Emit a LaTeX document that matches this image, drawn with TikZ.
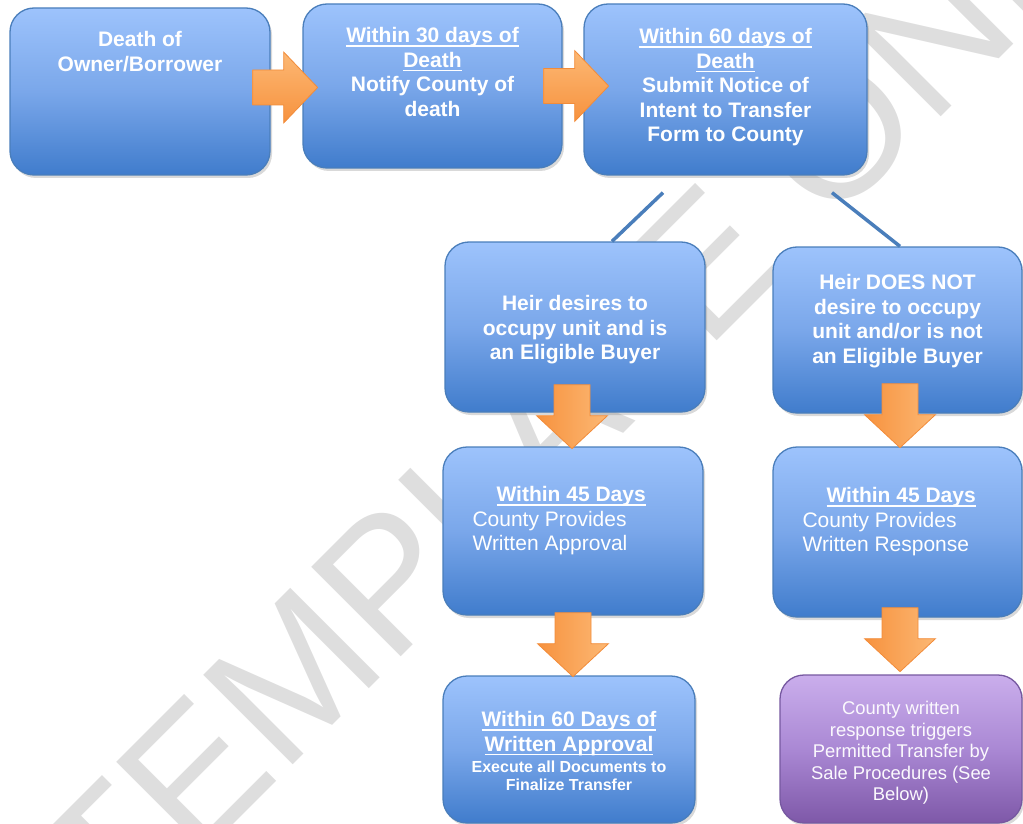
\documentclass[tikz,border=0pt]{standalone}
\usepackage{fontspec}
\setmainfont{Liberation Sans}
\usetikzlibrary{positioning,shadows}
\definecolor{bluetop}{RGB}{157,195,252}
\definecolor{bluemid}{RGB}{122,167,234}
\definecolor{bluebot}{RGB}{64,124,204}
\definecolor{blueline}{RGB}{74,126,187}
\definecolor{purptop}{RGB}{202,174,236}
\definecolor{purpmid}{RGB}{170,136,212}
\definecolor{purpbot}{RGB}{126,88,168}
\definecolor{purpline}{RGB}{118,88,160}
\definecolor{orangedark}{RGB}{247,146,62}
\definecolor{orangelight}{RGB}{252,184,116}
\definecolor{orangeline}{RGB}{242,140,58}
\definecolor{wmgray}{RGB}{222,222,222}
\newcommand{\ulined}[1]{\setbox0\hbox{#1}\rlap{\rule[-4pt]{\wd0}{1.7pt}}\box0}
\newcommand{\bigtxt}{\fontsize{21}{24.5}\selectfont}

\tikzset{
  flowbox/.style={rounded corners=24pt, draw=blueline, line width=1.3pt,
    top color=bluetop, bottom color=bluebot, middle color=bluemid,
    drop shadow={shadow xshift=2pt, shadow yshift=-3pt, opacity=.3}},
  salebox/.style={flowbox, draw=purpline, top color=purptop, bottom color=purpbot, middle color=purpmid},
  boxtxt/.style={inner sep=0pt, align=center, text=white, font=\bigtxt\bfseries},
  link/.style={draw=blueline, line width=3.5pt},
  fatarrow/.style={draw=orangeline, line width=.8pt},
  rarrow/.pic={\path[fatarrow, top color=orangelight, bottom color=orangedark]
    (0,-17.5) -- (31,-17.5) -- (31,-35.5) -- (65,0) -- (31,35.5) -- (31,17.5) -- (0,17.5) -- cycle;},
  darrow/.pic={\path[fatarrow, left color=orangedark, right color=orangelight]
    (-18,0) -- (18,0) -- (18,31) -- (35.5,31) -- (0,64) -- (-35.5,31) -- (-18,31) -- cycle;}
}

\begin{document}
\begin{tikzpicture}[x=1pt,y=-1pt]
  \useasboundingbox (0,0) rectangle (1023,824);
  % watermark
  \node[rotate=45, inner sep=0pt, text=wmgray, font=\fontsize{184}{184}\selectfont] (stamp) at (600,368) {TEMPLATE ONLY};

  % boxes
  \node[flowbox, minimum width=260pt, minimum height=167pt] (death) at (140,91.5) {};
  \node[flowbox, minimum width=259pt, minimum height=164pt] (notify) at (432.5,86) {};
  \node[flowbox, minimum width=283pt, minimum height=171pt] (submit) at (725.5,89.5) {};

  \node[flowbox, minimum width=260pt, minimum height=170pt] (occupy) at (575,327) {};
  \node[flowbox, minimum width=249pt, minimum height=166pt] (notocc) at (897.5,330) {};
  \draw[link] ([xshift=106.5pt,yshift=-17pt]submit.south) -- ([xshift=2.5pt]notocc.north);
  \draw[link] ([xshift=-62.5pt,yshift=-17pt]submit.south) -- ([xshift=37pt]occupy.north);

  \node[flowbox, minimum width=260pt, minimum height=168pt] (approval) at (573,531) {};
  \node[flowbox, minimum width=249pt, minimum height=170pt] (response) at (897.5,532) {};
  \node[flowbox, minimum width=252pt, minimum height=147pt] (execute) at (569,749.5) {};
  \node[salebox, minimum width=242pt, minimum height=148pt] (sale) at (901,749) {};

  % texts
  \node[boxtxt, below=24pt of death.north] (deathtxt) {Death of\\Owner/Borrower};
  \node[boxtxt, below=24pt of notify.north] (notifytxt) {\ulined{Within 30 days of}\\\ulined{Death}\\Notify County of\\death};
  \node[boxtxt, below=25pt of submit.north] (submittxt) {\ulined{Within 60 days of}\\\ulined{Death}\\Submit Notice of\\Intent to Transfer\\Form to County};
  \node[boxtxt, below=54pt of occupy.north] (occupytxt) {Heir desires to\\occupy unit and is\\an Eligible Buyer};
  \node[boxtxt, below=28pt of notocc.north] (notocctxt) {Heir DOES NOT\\desire to occupy\\unit and/or is not\\an Eligible Buyer};
  \node[boxtxt, align=left, font=\bigtxt, below right=40pt and 30pt of approval.north west] (approvaltxt)
    {\hspace*{24pt}\textbf{\ulined{Within 45 Days}}\\County Provides\\Written Approval};
  \node[boxtxt, align=left, font=\bigtxt, below right=41pt and 30pt of response.north west] (responsetxt)
    {\hspace*{24pt}\textbf{\ulined{Within 45 Days}}\\County Provides\\Written Response};
  \node[boxtxt, below=36pt of execute.north] (executehead) {\ulined{Within 60 Days of}\\\ulined{Written Approval}};
  \node[boxtxt, font=\fontsize{16}{18}\selectfont\bfseries, below=85pt of execute.north] (executetxt)
    {Execute all Documents to\\Finalize Transfer};
  \node[boxtxt, text=white!92!purptop, font=\fontsize{18.4}{21.5}\selectfont, below=27pt of sale.north] (saletxt)
    {County written\\response triggers\\Permitted Transfer by\\Sale Procedures (See\\Below)};

  % block arrows
  \pic at ([xshift=-18pt,yshift=4pt]death.east) {rarrow};
  \pic at ([xshift=-19pt]notify.east) {rarrow};
  \pic at ([xshift=-3pt,yshift=28pt]occupy.south) {darrow};
  \pic at ([xshift=2.5pt,yshift=30pt]notocc.south) {darrow};
  \pic at ([yshift=3pt]approval.south) {darrow};
  \pic at ([xshift=2.5pt,yshift=10pt]response.south) {darrow};
\end{tikzpicture}
\end{document}
